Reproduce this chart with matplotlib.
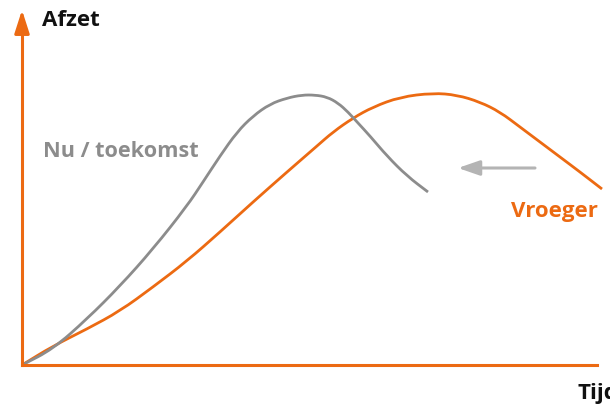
import matplotlib.pyplot as plt
from matplotlib.path import Path
from matplotlib.patches import PathPatch

plt.rcParams['font.family'] = ['Open Sans', 'DejaVu Sans']

ORANGE = '#ec6a12'
GRAY = '#8c8c8c'
LIGHTGRAY = '#b4b4b4'

# curves (x = time, y = sales, arbitrary units)
vroeger_x = [0, 31, 65, 98, 131, 165, 198, 231, 265, 295, 311, 331, 351, 378, 411, 435, 458, 478, 498, 518, 538, 558, 580]
vroeger_y = [0, 19, 36, 54, 78, 104, 133, 163, 193, 219, 233, 247, 258, 268, 272, 270, 263, 253, 238, 223, 208, 193, 176]

nu_x = [0, 31, 65, 98, 131, 165, 181, 198, 215, 231, 248, 265, 280, 293, 305, 316, 326, 336, 348, 365, 385, 406]
nu_y = [0, 16, 46, 79, 116, 159, 183, 209, 233, 249, 261, 267, 270, 270, 268, 262, 253, 242, 229, 209, 189, 173]

shift_arrow = (513, 436, 197)  # from x, to x, at y


def smooth_path(xs, ys):
    # quadratic bezier through midpoints, just for a smooth stroke
    pts = list(zip(xs, ys))
    verts = [pts[0]]
    codes = [Path.MOVETO]
    mid = ((pts[0][0] + pts[1][0]) / 2, (pts[0][1] + pts[1][1]) / 2)
    verts.append(mid)
    codes.append(Path.LINETO)
    for i in range(1, len(pts) - 1):
        nxt = ((pts[i][0] + pts[i + 1][0]) / 2, (pts[i][1] + pts[i + 1][1]) / 2)
        verts += [pts[i], nxt]
        codes += [Path.CURVE3, Path.CURVE3]
    verts.append(pts[-1])
    codes.append(Path.LINETO)
    return Path(verts, codes)


fig = plt.figure(figsize=(6.1, 4.06), dpi=100)
ax = fig.add_axes([0, 0, 1, 1])
ax.set_xlim(-22, 588)
ax.set_ylim(-40, 366)
ax.axis('off')

ax.add_patch(PathPatch(smooth_path(vroeger_x, vroeger_y), fill=False, edgecolor=ORANGE, lw=2.0, capstyle='butt'))
ax.add_patch(PathPatch(smooth_path(nu_x, nu_y), fill=False, edgecolor=GRAY, lw=2.0, capstyle='butt'))

# axes with arrows
ax.plot([0, 0], [0, 335], color=ORANGE, lw=2.2)
ax.plot([0, 575], [0, 0], color=ORANGE, lw=2.2)
ax.annotate('', xy=(0, 355), xytext=(0, 330),
            arrowprops=dict(arrowstyle='-|>,head_length=1.4,head_width=0.45',
                            color=ORANGE, lw=2.2, shrinkA=0, shrinkB=0))
ax.annotate('', xy=(592, 0), xytext=(565, 0),
            arrowprops=dict(arrowstyle='-|>,head_length=1.4,head_width=0.45',
                            color=ORANGE, lw=2.2, shrinkA=0, shrinkB=0))

# shift arrow
ax.annotate('', xy=(shift_arrow[1], shift_arrow[2]), xytext=(shift_arrow[0], shift_arrow[2]),
            arrowprops=dict(arrowstyle='-|>,head_length=1.3,head_width=0.45',
                            color=LIGHTGRAY, lw=2.2, shrinkA=0, shrinkB=0))

ax.text(20, 346, 'Afzet', fontsize=16, fontweight='bold', color='#111111', va='center', ha='left')
ax.text(556, -28, 'Tijd', fontsize=16, fontweight='bold', color='#111111', va='center', ha='left')
ax.text(21, 214, 'Nu / toekomst', fontsize=15.6, fontweight='bold', color=GRAY, va='center', ha='left')
ax.text(489, 154, 'Vroeger', fontsize=16, fontweight='bold', color=ORANGE, va='center', ha='left')

fig.savefig('out.png', dpi=100)
